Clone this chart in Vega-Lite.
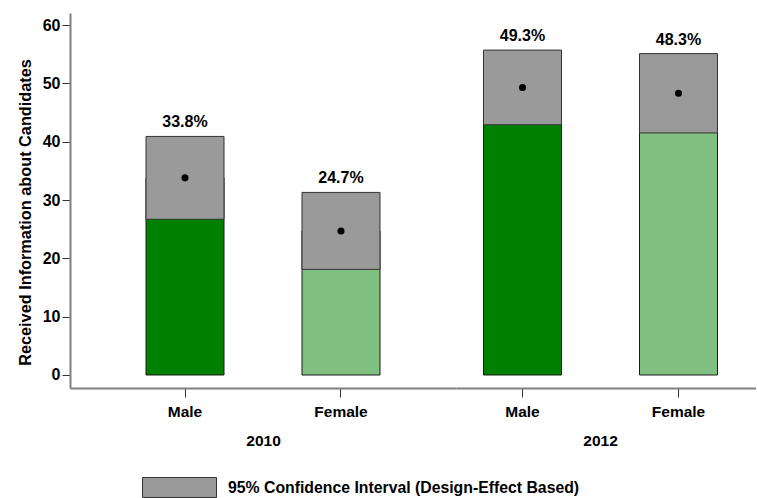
{
  "$schema": "https://vega.github.io/schema/vega-lite/v6.json",
  "padding": {"left": 17, "top": 13, "right": 0, "bottom": 0},
  "background": "white",
  "config": {
    "font": "Liberation Sans",
    "view": {"stroke": null},
    "axis": {
      "grid": false,
      "domainColor": "#808080",
      "domainWidth": 2,
      "tickColor": "#333333",
      "labelFontWeight": "bold",
      "labelColor": "#000000",
      "titleColor": "#000000",
      "titleFontWeight": "bold"
    }
  },
  "datasets": {
    "d": [
      {"year": "2010", "sex": "Male", "mean": 33.8, "lower": 26.7, "upper": 40.9},
      {"year": "2010", "sex": "Female", "mean": 24.7, "lower": 18.1, "upper": 31.3},
      {"year": "2012", "sex": "Male", "mean": 49.3, "lower": 42.9, "upper": 55.7},
      {"year": "2012", "sex": "Female", "mean": 48.3, "lower": 41.5, "upper": 55.1}
    ]
  },
  "spacing": 0,
  "resolve": {"scale": {"x": "independent", "y": "shared"}},
  "hconcat": [
    {
      "width": 386,
      "height": 375,
      "data": {"name": "d"},
      "transform": [
        {"filter": "datum.year == '2010'"},
        {"calculate": "format(datum.mean, '.1f') + '%'", "as": "label"}
      ],
      "encoding": {
        "x": {
          "field": "sex", "type": "nominal", "sort": ["Male", "Female"],
          "scale": {"paddingInner": 0.5, "paddingOuter": 0.4872, "align": 0.5},
          "axis": {"title": "2010", "labelAngle": 0, "labelFontSize": 15.5, "labelPadding": 7, "tickSize": 9, "titleFontSize": 15.5, "titlePadding": 14}
        }
      },
      "layer": [
        {
          "mark": {"type": "bar", "stroke": "#1a1a1a", "strokeWidth": 1},
          "encoding": {
            "y": {"field": "mean", "type": "quantitative",
              "scale": {"domain": [-2.23, 62.06], "nice": false, "zero": false},
              "axis": {"title": "Received Information about Candidates", "titleY": 199, "values": [0, 10, 20, 30, 40, 50, 60], "labelFontSize": 16, "tickSize": 8, "labelPadding": 2, "titleFontSize": 16.3, "titlePadding": 9}},
            "y2": {"datum": 0},
            "color": {"field": "sex", "type": "nominal", "scale": {"domain": ["Male", "Female"], "range": ["#008000", "#80c080"]}, "legend": null}
          }
        },
        {
          "mark": {"type": "bar", "stroke": "#333333", "strokeWidth": 1},
          "encoding": {
            "y": {"field": "lower", "type": "quantitative"},
            "y2": {"field": "upper"},
            "fill": {"datum": "95% Confidence Interval (Design-Effect Based)", "type": "nominal", "scale": {"range": ["#9a9a9a"]},
              "legend": {"title": null, "orient": "none", "legendX": 72, "legendY": 437, "symbolType": "M-1,-0.27L1,-0.27L1,0.27L-1,0.27Z", "symbolSize": 5476, "symbolStrokeColor": "#333333", "symbolStrokeWidth": 1, "labelFontSize": 15.8, "labelFontWeight": "bold", "labelColor": "#000000", "labelOffset": 11, "labelLimit": 500}}
          }
        },
        {
          "mark": {"type": "point", "filled": true, "color": "#000000", "size": 50, "opacity": 1},
          "encoding": {"y": {"field": "mean", "type": "quantitative"}}
        },
        {
          "mark": {"type": "text", "fontSize": 16, "fontWeight": "bold", "baseline": "alphabetic", "dy": -9, "color": "#000000"},
          "encoding": {"y": {"field": "upper", "type": "quantitative"}, "text": {"field": "label"}}
        }
      ]
    },
    {
      "width": 300,
      "height": 375,
      "data": {"name": "d"},
      "transform": [
        {"filter": "datum.year == '2012'"},
        {"calculate": "format(datum.mean, '.1f') + '%'", "as": "label"}
      ],
      "encoding": {
        "x": {
          "field": "sex", "type": "nominal", "sort": ["Male", "Female"],
          "scale": {"paddingInner": 0.5, "paddingOuter": 0.2115, "align": 0.4167},
          "axis": {"title": "2012", "titleX": 144, "labelAngle": 0, "labelFontSize": 15.5, "labelPadding": 7, "tickSize": 9, "titleFontSize": 15.5, "titlePadding": 14}
        }
      },
      "layer": [
        {
          "mark": {"type": "bar", "stroke": "#1a1a1a", "strokeWidth": 1},
          "encoding": {
            "y": {"field": "mean", "type": "quantitative",
              "scale": {"domain": [-2.23, 62.06], "nice": false, "zero": false},
              "axis": null},
            "y2": {"datum": 0},
            "color": {"field": "sex", "type": "nominal", "scale": {"domain": ["Male", "Female"], "range": ["#008000", "#80c080"]}, "legend": null}
          }
        },
        {
          "mark": {"type": "bar", "stroke": "#333333", "strokeWidth": 1},
          "encoding": {
            "y": {"field": "lower", "type": "quantitative"},
            "y2": {"field": "upper"},
            "fill": {"datum": "95% Confidence Interval (Design-Effect Based)", "type": "nominal"}
          }
        },
        {
          "mark": {"type": "point", "filled": true, "color": "#000000", "size": 50, "opacity": 1},
          "encoding": {"y": {"field": "mean", "type": "quantitative"}}
        },
        {
          "mark": {"type": "text", "fontSize": 16, "fontWeight": "bold", "baseline": "alphabetic", "dy": -9, "color": "#000000"},
          "encoding": {"y": {"field": "upper", "type": "quantitative"}, "text": {"field": "label"}}
        }
      ]
    }
  ]
}
